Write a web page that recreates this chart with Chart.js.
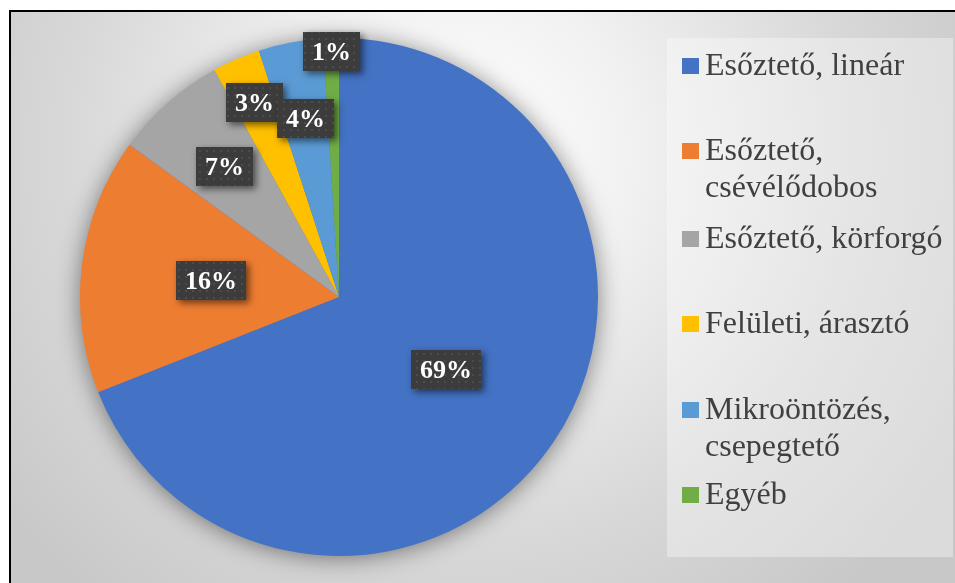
<!DOCTYPE html>
<html>
<head>
<meta charset="utf-8">
<script src="https://cdn.jsdelivr.net/npm/chart.js@4/dist/chart.umd.min.js"></script>
<style>
  html, body { margin: 0; padding: 0; background: #ffffff; overflow: hidden; }
  #frame {
    position: absolute; left: 9px; top: 10px; width: 970px; height: 600px;
    border: 2px solid #000;
    background: radial-gradient(circle 580px at 450px 140px, #ffffff 0%, #f1f1f1 30%, #d8d8d8 68%, #c8c8c8 100%);
  }
  #c { position: absolute; left: 0; top: 0; }
</style>
</head>
<body>
<div id="frame"></div>
<canvas id="c" width="955" height="583"></canvas>
<script>
const categories = ["Esőztető, lineár", "Esőztető, csévélődobos", "Esőztető, körforgó", "Felületi, árasztó", "Mikroöntözés, csepegtető", "Egyéb"];
const shares = [69, 16, 7, 3, 4, 1];
const percentLabels = ["69%", "16%", "7%", "3%", "4%", "1%"];
const colors = ["#4472C4", "#ED7D31", "#A5A5A5", "#FFC000", "#5B9BD5", "#70AD47"];

// label placement (fraction of radius) per slice, as placed in the original
const labelRadius = [0.5, 0.5, 0.67, 0.82, 0.7, 0.95];

function makePattern(ctx) {
  const p = document.createElement('canvas');
  p.width = 7; p.height = 7;
  const pc = p.getContext('2d');
  pc.fillStyle = '#3c3c3c'; pc.fillRect(0, 0, 7, 7);
  pc.fillStyle = '#4c4c4c'; pc.fillRect(3, 3, 2, 2);
  return ctx.createPattern(p, 'repeat');
}

const pieShadow = {
  id: 'pieShadow',
  beforeDatasetsDraw(chart) {
    const arc = chart.getDatasetMeta(0).data[0];
    if (!arc) return;
    const ctx = chart.ctx;
    ctx.save();
    ctx.shadowColor = 'rgba(0,0,0,0.5)';
    ctx.shadowBlur = 24;
    ctx.shadowOffsetX = 0;
    ctx.shadowOffsetY = 2;
    ctx.fillStyle = '#4472C4';
    ctx.beginPath();
    ctx.arc(arc.x, arc.y, arc.outerRadius - 1, 0, Math.PI * 2);
    ctx.fill();
    ctx.restore();
  }
};

const dataLabels = {
  id: 'dataLabels',
  afterDatasetsDraw(chart) {
    const ctx = chart.ctx;
    const meta = chart.getDatasetMeta(0);
    const pattern = makePattern(ctx);
    ctx.save();
    ctx.font = 'bold 26px "Liberation Serif", "Times New Roman", serif';
    meta.data.forEach((arc, i) => {
      const mid = (arc.startAngle + arc.endAngle) / 2;
      const r = arc.outerRadius * labelRadius[i];
      const cx = arc.x + Math.cos(mid) * r;
      const cy = arc.y + Math.sin(mid) * r;
      const txt = percentLabels[i];
      const tw = ctx.measureText(txt).width;
      const w = Math.round(tw + 18), h = 39;
      const x0 = Math.round(cx - w / 2), y0 = Math.round(cy - h / 2);
      ctx.save();
      ctx.shadowColor = 'rgba(0,0,0,0.55)';
      ctx.shadowBlur = 7;
      ctx.shadowOffsetX = 3;
      ctx.shadowOffsetY = 3;
      ctx.fillStyle = '#3c3c3c';
      ctx.fillRect(x0, y0, w, h);
      ctx.restore();
      ctx.fillStyle = pattern;
      ctx.fillRect(x0, y0, w, h);
      ctx.fillStyle = '#ffffff';
      ctx.textAlign = 'center';
      ctx.textBaseline = 'alphabetic';
      ctx.fillText(txt, x0 + w / 2, y0 + 28);
    });
    ctx.restore();
  }
};

const customLegend = {
  id: 'customLegend',
  afterDraw(chart) {
    const ctx = chart.ctx;
    ctx.save();
    ctx.fillStyle = 'rgba(255,255,255,0.35)';
    ctx.fillRect(667, 38, 286, 519);
    ctx.font = '32px "Liberation Serif", "Times New Roman", serif';
    ctx.textBaseline = 'alphabetic';
    ctx.textAlign = 'left';
    const baselines = [75, 160, 248, 333, 419, 504];
    const maxW = 245, lineH = 37;
    chart.data.labels.forEach((lab, i) => {
      const words = lab.split(' ');
      const lines = [];
      let cur = '';
      words.forEach(wd => {
        const t = cur ? cur + ' ' + wd : wd;
        if (ctx.measureText(t).width > maxW && cur) { lines.push(cur); cur = wd; }
        else cur = t;
      });
      lines.push(cur);
      const b = baselines[i];
      ctx.fillStyle = chart.data.datasets[0].backgroundColor[i];
      ctx.fillRect(682, b - 17, 17, 16);
      ctx.fillStyle = '#404040';
      lines.forEach((ln, k) => ctx.fillText(ln, 705, b + k * lineH));
    });
    ctx.restore();
  }
};

new Chart(document.getElementById('c'), {
  type: 'pie',
  data: {
    labels: categories,
    datasets: [{
      data: shares,
      backgroundColor: colors,
      borderWidth: 0
    }]
  },
  options: {
    responsive: false,
    devicePixelRatio: 1,
    animation: false,
    layout: { padding: { left: 80, right: 357, top: 38, bottom: 27 } },
    plugins: {
      legend: { display: false },
      tooltip: { enabled: false }
    }
  },
  plugins: [pieShadow, dataLabels, customLegend]
});
</script>
</body>
</html>
